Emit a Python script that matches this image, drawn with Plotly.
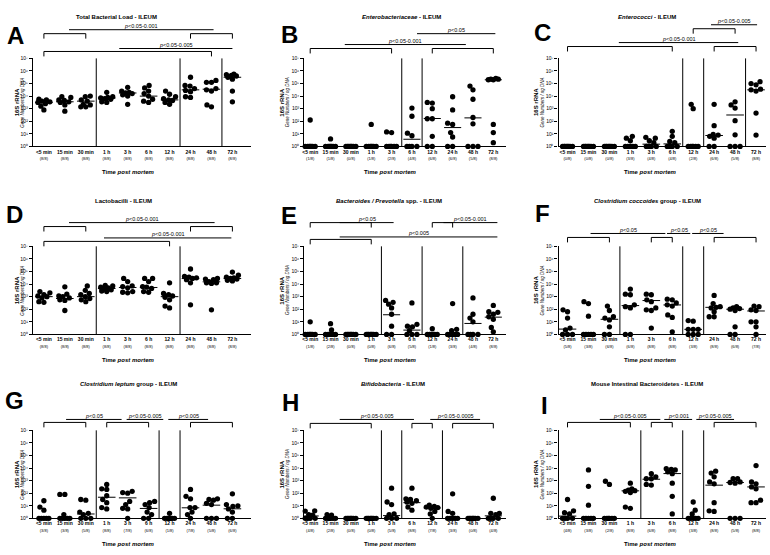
import numpy as np
import plotly.graph_objects as go

W, H = 770, 555
FONT = "Liberation Sans, Arial, sans-serif"

categories = ["&lt;5 min", "15 min", "30 min", "1 h", "3 h", "6 h", "12 h", "24 h", "48 h", "72 h"]
SUP = "⁰¹²³⁴⁵⁶⁷"
ytick_text = ["10" + SUP[e] for e in range(8)]

# ---- data: log10(16S rRNA gene numbers / ng DNA), 0 = below detection (plotted at 10^0)
A_log10 = [[3.75,3.7,3.6,3.55,3.5,3.4,3.2,2.9],[3.95,3.9,3.7,3.65,3.55,3.5,3.3,2.8],
           [4.0,3.95,3.7,3.6,3.35,3.3,3.15,3.15],[4.3,3.95,3.9,3.85,3.8,3.75,3.55,3.5],
           [4.7,4.4,4.3,4.25,4.2,4.1,4.0,3.35],[4.85,4.65,4.4,4.2,4.0,3.75,3.6,3.5],
           [4.4,4.15,3.95,3.8,3.7,3.65,3.5,3.35],[5.5,4.85,4.8,4.6,4.45,4.35,3.95,3.9],
           [5.25,5.1,5.1,4.6,4.5,4.4,3.3,3.15],[5.75,5.7,5.65,5.6,5.5,5.35,4.4,3.55]]
A_median = [3.5,3.55,3.6,3.85,4.25,4.0,3.7,4.5,4.55,5.5]
A_detected = ["8/8"]*10

B_log10 = [[2.1,0,0,0,0,0,0,0],[0.6,0,0,0,0,0,0,0],[0,0,0,0,0,0,0,0],[1.75,0,0,0,0,0,0,0],
           [1.15,1.1,0,0,0,0,0,0],[3.05,2.4,1.05,0.85,0,0,0,0],[3.5,3.45,3.0,2.2,2.2,0.8,0,0],
           [3.95,2.9,1.85,1.75,1.1,0.75,0,0],[4.8,4.5,3.75,2.3,1.8,0,0,0],
           [5.4,5.35,5.35,5.3,5.3,1.75,1.1,0.3]]
B_median = [None,None,None,None,None,0.57,2.22,1.5,2.27,5.3]
B_detected = ["1/8","1/8","0/8","1/8","2/8","4/8","6/8","6/8","5/8","8/8"]

C_log10 = [[0]*8,[0]*8,[0]*8,[0.8,0.66,0.45,0,0,0,0,0],[0.72,0.66,0.45,0.3,0,0,0,0],
           [1.2,0.8,0.4,0.3,0,0,0,0],[3.35,3.0,0,0,0,0,0,0],[3.35,1.65,0.95,0.9,0.8,0.66,0,0],
           [3.55,3.3,3.05,2.05,0.92,0,0,0],[5.15,5.0,4.9,4.55,4.5,4.4,2.65,0.9]]
C_median = [None,None,None,None,0.18,0.2,None,0.87,2.5,4.5]
C_detected = ["0/8","0/8","0/8","3/8","4/8","4/8","2/8","6/8","5/8","8/8"]

D_log10 = [[3.4,3.3,3.15,3.05,3.0,2.9,2.6,2.55],[3.78,3.2,3.05,3.0,2.9,2.75,2.7,1.9],
           [3.85,3.5,3.25,3.15,3.0,2.85,2.75,2.6],[3.9,3.85,3.75,3.7,3.6,3.55,3.45,3.4],
           [4.45,4.2,3.85,3.8,3.7,3.4,3.35,3.3],[4.45,4.45,4.2,3.8,3.75,3.65,3.4,3.35],
           [4.1,3.25,3.15,3.05,2.95,2.75,2.25,2.1],[5.2,4.6,4.55,4.5,4.45,4.35,4.1,2.35],
           [4.45,4.4,4.35,4.2,4.1,4.1,4.05,1.95],[4.95,4.7,4.55,4.5,4.45,4.4,4.3,4.25]]
D_median = [3.0,2.85,3.0,3.65,3.73,3.73,3.0,4.44,4.18,4.44]
D_detected = ["8/8"]*10

E_log10 = [[1.0,0,0,0,0,0,0,0],[0.85,0.35,0,0,0,0,0,0],[0]*8,[0]*8,
           [2.7,2.55,2.4,2.1,1.6,0.65,0,0],[2.5,0.8,0.65,0.6,0.3,0,0,0],[0.45,0,0,0,0,0,0,0],
           [2.45,0.4,0.3,0,0,0,0,0],[2.9,1.6,1.3,1.0,0,0,0,0],[2.3,1.8,1.75,1.6,1.4,1.2,0.55,0.2]]
E_median = [None,None,None,None,1.56,0.34,None,None,0.87,1.37]
E_detected = ["1/8","2/8","0/8","0/8","6/8","5/8","1/8","3/8","4/8","8/8"]

F_log10 = [[1.95,1.8,1.3,0.5,0.35,0,0,0],[2.6,2.45,1.45,0,0,0,0,0],[2.25,1.9,1.4,1.3,1.15,0.6,0,0],
           [3.6,3.2,3.15,2.35,2.2,2.1,0,0],[3.2,3.15,2.75,2.6,2.1,1.95,1.9,0.5],
           [2.8,2.75,2.5,2.35,2.25,1.55,1.35,0.2],[1.1,1.05,0.4,0.4,0.4,0,0,0],
           [3.1,2.45,2.2,2.15,2.1,1.8,1.4,1.4],[2.2,2.1,2.05,2.0,1.9,0.6,0,0],
           [2.25,2.2,1.95,1.9,1.0,1.0,0.6,0]]
F_median = [0.42,None,1.2,2.29,2.69,2.34,0.4,2.15,2.0,1.86]
F_detected = ["5/8","3/8","6/8","6/8","8/8","8/8","3/8","8/8","6/8","7/8"]

G_log10 = [[1.4,0.9,0.65,0,0,0,0,0],[1.9,1.9,0.3,0,0,0,0,0],[1.5,1.45,0.5,0.4,0.3,0,0,0],
           [2.7,2.35,2.3,1.8,1.5,1.25,0.85,0.75],[2.15,2.05,2.0,1.35,1.1,0.8,0.75,0],
           [1.35,1.25,1.1,0.85,0.5,0.3,0,0],[0.4,0,0,0,0,0,0,0],[2.3,1.75,1.55,0.85,0.85,0.5,0.3,0],
           [1.55,1.5,1.45,1.2,1.1,0,0,0],[1.95,1.1,1.0,0.95,0.75,0.5,0,0]]
G_median = [None,None,0.35,1.68,1.63,0.79,None,0.84,1.05,0.76]
G_detected = ["3/8","3/8","5/8","8/8","7/8","6/8","1/8","7/8","5/8","6/8"]

H_log10 = [[0.6,0.58,0.3,0.25,0,0,0,0],[0.3,0.25,0,0,0,0,0,0],[0]*8,[0]*8,
           [2.4,1.3,1.1,0.35,0.3,0,0,0],[2.4,1.55,1.5,1.4,1.3,1.2,0.9,0.65],
           [1.05,0.95,0.9,0.85,0.8,0.55,0.35,0],[1.95,0.55,0.4,0,0,0,0,0],[0]*8,
           [1.6,0.4,0.4,0.3,0,0,0,0]]
H_median = [0.19,None,None,None,0.22,1.25,0.83,None,None,0.2]
H_detected = ["4/8","2/8","0/8","0/8","5/8","8/8","7/8","3/8","0/8","4/8"]

I_log10 = [[1.5,0.6,0.45,0.35,0,0,0,0],[3.85,2.55,1.05,0,0,0,0,0],[2.95,2.7,0,0,0,0,0,0],
           [2.8,2.35,2.25,2.2,2.15,2.05,0.9,0.8],[3.55,3.3,3.15,3.15,2.7,2.65],
           [3.95,3.9,3.85,3.7,3.55,2.8,1.75,0.35],[1.3,0.65,0.35,0,0,0,0,0],
           [3.75,3.6,3.3,2.9,2.75,1.25,0.6,0.55],[3.15,3.15,2.9,2.85,2.8,0,0,0],
           [4.2,2.9,2.75,2.5,2.35,1.45,1.25,1.25]]
I_median = [0.18,None,None,2.19,3.11,3.56,None,2.64,2.85,2.5]
I_detected = ["4/8","3/8","2/8","8/8","6/8","8/8","3/8","8/8","5/8","8/8"]

# ---- panel annotations (brackets: x0,x1 in category units, height px above plot top)
panels = [
    dict(letter="A", title="<b>Total Bacterial Load - ILEUM</b>", vals=A_log10, med=A_median, det=A_detected,
         seps=[2.5, 6.5, 8.5], brackets=[(0, 2, 25), (7, 9, 25), (0, 8, 7)],
         lines=[(1.2, 8.1, 29, "0.05-0.001"), (3.6, 9.0, 10, "0.05-0.005")]),
    dict(letter="B", title="<b><i>Enterobacteriaceae</i> - ILEUM</b>", vals=B_log10, med=B_median, det=B_detected,
         seps=[4.5, 5.5], brackets=[(0, 4, 10), (6, 9, 10)],
         lines=[(1.7, 7.65, 14, "0.05-0.001"), (5.25, 9.1, 25, "0.05")]),
    dict(letter="C", title="<b><i>Enterococci</i> - ILEUM</b>", vals=C_log10, med=C_median, det=C_detected,
         seps=[5.5, 6.5, 8.5], brackets=[(0, 5, 12), (7, 9, 12), (6, 8, 30)],
         lines=[(2.45, 8.15, 16, "0.05-0.001"), (6.85, 9.05, 34, "0.05-0.005")]),
    dict(letter="D", title="<b>Lactobacilli - ILEUM</b>", vals=D_log10, med=D_median, det=D_detected,
         seps=[2.5, 6.5], brackets=[(0, 2, 20), (7, 9, 20), (0, 6, 5)],
         lines=[(1.2, 8.15, 24, "0.05-0.001"), (2.87, 8.95, 8.5, "0.05-0.001")]),
    dict(letter="E", title="<b><i>Bacteroides / Prevotella</i> spp. - ILEUM</b>", vals=E_log10, med=E_median, det=E_detected,
         seps=[3.5, 5.5, 7.5], brackets=[(0, 3, 24), (6, 7, 24), (0, 3, 7)],
         lines=[(1.45, 4.1, 24, "0.05"), (6.55, 9.2, 24, "0.05-0.001"), (1.45, 9.2, 9.5, "0.005")]),
    dict(letter="F", title="<b><i>Clostridium coccoides</i> group - ILEUM</b>", vals=F_log10, med=F_median, det=F_detected,
         seps=[2.5, 5.5, 6.5], brackets=[(0, 2, 9), (4, 5, 9), (7, 9, 9)],
         lines=[(1.1, 4.67, 13, "0.05"), (4.75, 5.86, 13, "0.05"), (5.95, 7.45, 13, "0.05")]),
    dict(letter="G", title="<b><i>Clostridium leptum</i> group - ILEUM</b>", vals=G_log10, med=G_median, det=G_detected,
         seps=[2.5, 5.5, 6.5], brackets=[(0, 2, 8), (3, 5, 8), (7, 9, 8)],
         lines=[(1.06, 3.71, 11, "0.05"), (3.95, 5.7, 11, "0.05-0.005"), (5.94, 7.84, 11, "0.005")]),
    dict(letter="H", title="<b><i>Bifidobacteria</i> - ILEUM</b>", vals=H_log10, med=H_median, det=H_detected,
         seps=[3.5, 4.5, 6.5], brackets=[(0, 3, 7), (5, 6, 7), (7, 9, 7)],
         lines=[(1.45, 5.1, 11, "0.05-0.005"), (5.9, 8.35, 11, "0.05-0.0005")]),
    dict(letter="I", title="<b>Mouse Intestinal Bacteroidetes - ILEUM</b>", vals=I_log10, med=I_median, det=I_detected,
         seps=[3.5, 5.5, 6.5], brackets=[(0, 3, 8), (4, 5, 8), (7, 9, 8)],
         lines=[(1.54, 4.43, 11, "0.05-0.005"), (4.62, 5.95, 11, "0.001"), (6.15, 7.95, 11, "0.05-0.005")]),
]

# geometry (px): axis left, axis right, first category centre, category spacing
col_geom = [(31, 250, 42, 21.0), (303, 505, 309, 20.4), (558, 766, 567, 21.0)]
row_geom = [(56, 145), (246, 335), (432, 521)]
title_x = [115, 401, 647, 122, 388, 647, 127, 392, 647]
title_y = [14, 200, 385]
letter_pos = [(14, 33), (288, 32), (542, 30), (13, 214), (288, 215), (542, 213), (13, 402), (289, 404), (544, 407)]
ylab_x = [(15, 20.5), (281, 286.5), (536, 541.5)]
xtitle_x = [127, 390, 650]


def px_x(px):
    return px / W


def px_y(py):
    return 1 - py / H


def swarm(vals, ppx, ppy, d=5.0, cap=6.0):
    n = len(vals)
    order = sorted(range(n), key=lambda i: vals[i])
    cands = sorted(np.arange(-cap, cap + 0.01, 0.5), key=lambda o: (abs(o), o))
    placed = []
    offs = [0.0] * n
    for i in order:
        y = vals[i] * ppy
        chosen, fb, fbd = None, 0.0, -1.0
        for o in cands:
            md = min([np.hypot(o - a, y - b) for a, b in placed], default=1e9)
            if md >= d * 0.95:
                chosen = o
                break
            if md > fbd + 1e-9:
                fbd, fb = md, o
        if chosen is None:
            chosen = fb
        placed.append((chosen, y))
        offs[i] = chosen / ppx
    return offs


fig = go.Figure()
layout = dict(width=W, height=H, margin=dict(l=0, r=0, t=0, b=0), showlegend=False,
              plot_bgcolor="white", paper_bgcolor="white", font=dict(family=FONT, color="black"))
shapes, annos = [], []

for k, p in enumerate(panels):
    r, c = divmod(k, 3)
    left, right, c0, dc = col_geom[c]
    top, bot = row_geom[r]
    xa = "x" if k == 0 else f"x{k+1}"
    ya = "y" if k == 0 else f"y{k+1}"
    ppy = (bot - top) / 7.0

    def cx(cat, c0=c0, dc=dc):
        return px_x(c0 + dc * cat)

    # points
    xs, ys = [], []
    for i, v in enumerate(p["vals"]):
        offs = swarm(v, dc, ppy)
        xs += [i + o for o in offs]
        ys += [10 ** val for val in v]
    fig.add_trace(go.Scatter(x=xs, y=ys, mode="markers", xaxis=xa, yaxis=ya, cliponaxis=False,
                             marker=dict(size=5.3, color="black"), hoverinfo="skip"))
    # medians
    mx, my = [], []
    for i, m in enumerate(p["med"]):
        if m is None:
            continue
        mx += [i - 0.42, i + 0.42, None]
        my += [10 ** m, 10 ** m, None]
    fig.add_trace(go.Scatter(x=mx, y=my, mode="lines", xaxis=xa, yaxis=ya, cliponaxis=False,
                             line=dict(color="black", width=1), hoverinfo="skip"))

    ticktext = [f"<b>{cat}</b><br><span style='font-size:4px'>({d})</span>"
                for cat, d in zip(categories, p["det"])]
    layout["xaxis" if k == 0 else f"xaxis{k+1}"] = dict(
        domain=[px_x(left), px_x(right)], range=[(left - c0) / dc, (right - c0) / dc],
        anchor=ya, showline=True, linecolor="black", linewidth=1.2, showgrid=False, zeroline=False,
        tickvals=list(range(10)), ticktext=ticktext, ticks="", tickfont=dict(size=5, family=FONT))
    layout["yaxis" if k == 0 else f"yaxis{k+1}"] = dict(
        domain=[px_y(bot), px_y(top)], type="log", range=[0, 7], anchor=xa,
        showline=True, linecolor="black", linewidth=1.2, showgrid=False, zeroline=False,
        tickvals=[10 ** e for e in range(8)], ticktext=ytick_text,
        ticks="outside", ticklen=3, tickwidth=1, tickcolor="black", tickfont=dict(size=5, family=FONT))

    # separators
    for s in p["seps"]:
        shapes.append(dict(type="line", xref="paper", yref="paper", x0=cx(s), x1=cx(s),
                           y0=px_y(bot), y1=px_y(top), line=dict(color="black", width=1)))
    # brackets
    for x0, x1, h in p["brackets"]:
        yy = top - h
        shapes.append(dict(type="path", xref="paper", yref="paper",
                           path=f"M {cx(x0)} {px_y(yy + 5)} L {cx(x0)} {px_y(yy)} L {cx(x1)} {px_y(yy)} L {cx(x1)} {px_y(yy + 5)}",
                           line=dict(color="black", width=1)))
    for x0, x1, h, txt in p["lines"]:
        yy = top - h
        shapes.append(dict(type="line", xref="paper", yref="paper", x0=cx(x0), x1=cx(x1),
                           y0=px_y(yy), y1=px_y(yy), line=dict(color="black", width=1)))
        annos.append(dict(xref="paper", yref="paper", x=cx((x0 + x1) / 2), y=px_y(yy + 0.5),
                          xanchor="center", yanchor="bottom", showarrow=False, borderpad=0,
                          text=f"<i>p</i>&lt;{txt}", font=dict(size=5.5, family=FONT)))
    # titles & labels
    annos.append(dict(xref="paper", yref="paper", x=px_x(title_x[k]), y=px_y(title_y[r]),
                      xanchor="center", yanchor="middle", showarrow=False, text=p["title"],
                      font=dict(size=6, family=FONT)))
    lx, ly = letter_pos[k]
    annos.append(dict(xref="paper", yref="paper", x=px_x(lx), y=px_y(ly), xanchor="center",
                      yanchor="middle", showarrow=False, text=f"<b>{p['letter']}</b>",
                      font=dict(size=24, family=FONT)))
    annos.append(dict(xref="paper", yref="paper", x=px_x(ylab_x[c][0]), y=px_y((top + bot) / 2),
                      xanchor="center", yanchor="middle", showarrow=False, textangle=-90,
                      text="<b>16S rRNA</b>", font=dict(size=6, family=FONT)))
    annos.append(dict(xref="paper", yref="paper", x=px_x(ylab_x[c][1]), y=px_y((top + bot) / 2),
                      xanchor="center", yanchor="middle", showarrow=False, textangle=-90,
                      text="<i>Gene Numbers / ng DNA</i>", font=dict(size=4.5, family=FONT)))
    annos.append(dict(xref="paper", yref="paper", x=px_x(xtitle_x[c]), y=px_y(bot + 26),
                      xanchor="center", yanchor="middle", showarrow=False,
                      text="<b>Time <i>post mortem</i></b>", font=dict(size=6, family=FONT)))

layout["shapes"] = shapes
layout["annotations"] = annos
fig.update_layout(**layout)
fig.write_html("out.html", config={"displayModeBar": False},
               post_script="document.body.style.margin='0';document.body.style.overflow='hidden';")
